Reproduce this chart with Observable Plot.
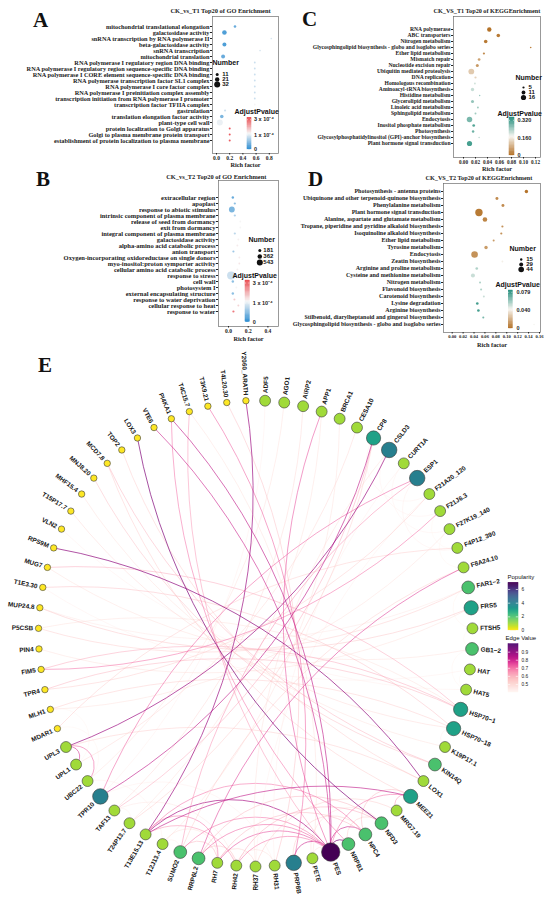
<!DOCTYPE html>
<html><head><meta charset="utf-8">
<script src="https://cdn.jsdelivr.net/npm/d3@7"></script>
<script src="https://cdn.jsdelivr.net/npm/@observablehq/plot@0.6"></script>
<style>
body{margin:0;background:#fff;}
#fig{position:relative;width:550px;height:909px;overflow:hidden;background:#fff;}
.letter{position:absolute;font-family:'Liberation Serif','Times New Roman',serif;font-weight:bold;font-size:21px;line-height:1;color:#111;}
</style></head><body><div id="fig"></div>
<script>
// ---------------- DATA ----------------
// Panel A: CK_vs_T1 GO
const goT1Terms = ["mitochondrial translational elongation","galactosidase activity","snRNA transcription by RNA polymerase II","beta-galactosidase activity","snRNA transcription","mitochondrial translation","RNA polymerase I regulatory region DNA binding","RNA polymerase I regulatory region sequence-specific DNA binding","RNA polymerase I CORE element sequence-specific DNA binding","RNA polymerase transcription factor SL1 complex","RNA polymerase I core factor complex","RNA polymerase I preinitiation complex assembly","transcription initiation from RNA polymerase I promoter","transcription factor TFIIA complex","gastrulation","translation elongation factor activity","plant-type cell wall","protein localization to Golgi apparatus","Golgi to plasma membrane protein transport","establishment of protein localization to plasma membrane"];
const goT1Rich = [0.28,0.12,0.83,0.12,0.66,0.10,0.58,0.58,0.58,0.58,0.58,0.58,0.58,0.58,0.13,0.08,0.05,0.20,0.20,0.20];
const goT1Count = [8,22,2,18,2,17,3,3,3,3,3,3,3,3,5,15,32,4,4,4];
const goT1Padj = [2e-5,1e-5,9e-5,1e-5,9e-5,2e-5,8e-5,8e-5,8e-5,8e-5,8e-5,8e-5,8e-5,1.15e-4,8e-5,3e-5,1.05e-4,3.0e-4,3.0e-4,3.0e-4];
const goT1SizeBreaks = [11,21,32];

// Panel B: CK_vs_T2 GO
const goT2Terms = ["extracellular region","apoplast","response to abiotic stimulus","intrinsic component of plasma membrane","release of seed from dormancy","exit from dormancy","integral component of plasma membrane","galactosidase activity","alpha-amino acid catabolic process","anion transport","Oxygen-incorporating oxidoreductase on single donors","myo-inositol:proton symporter activity","cellular amino acid catabolic process","response to stress","cell wall","photosystem I","external encapsulating structure","response to water deprivation","cellular response to heat","response to water"];
const goT2Rich = [0.044,0.064,0.034,0.064,0.12,0.12,0.064,0.10,0.09,0.05,0.11,0.11,0.09,0.027,0.044,0.08,0.044,0.06,0.10,0.05];
const goT2Count = [110,90,520,90,40,40,90,40,50,80,45,40,55,800,110,50,110,70,55,90];
const goT2Padj = [2e-5,4e-5,3e-5,6e-5,1.15e-4,1.15e-4,7e-5,1.2e-4,1.25e-4,5e-5,1.25e-4,1.3e-4,1.2e-4,8e-5,4e-5,1.15e-4,4e-5,1.6e-4,1.5e-4,2.6e-4];
const goT2SizeBreaks = [181,362,543];

const goPvalTicks = [0,1e-4,3e-4];
const goPvalLabels = ["0","1 x 10\u207B\u2074","3 x 10\u207B\u2074"];

// Panel C: CK_VS_T1 KEGG
const keggT1Terms = ["RNA polymerase","ABC transporters","Nitrogen metabolism","Glycosphingolipid biosynthesis - globo and isoglobo series","Ether lipid metabolism","Mismatch repair","Nucleotide excision repair","Ubiquitin mediated proteolysis","DNA replication","Homologous recombination","Aminoacyl-tRNA biosynthesis","Histidine metabolism","Glycerolipid metabolism","Linoleic acid metabolism","Sphingolipid metabolism","Endocytosis","Inositol phosphate metabolism","Photosynthesis","Glycosylphosphatidylinositol (GPI)-anchor biosynthesis","Plant hormone signal transduction"];
const keggT1Rich = [0.043,0.058,0.037,0.112,0.034,0.026,0.023,0.013,0.020,0.019,0.015,0.027,0.015,0.024,0.020,0.010,0.017,0.016,0.026,0.010];
const keggT1Count = [13,10,10,3,5,7,8,18,5,4,9,2,8,4,4,17,7,6,2,16];
const keggT1Padj = [0.01,0.02,0.02,0.03,0.04,0.07,0.06,0.12,0.13,0.20,0.21,0.25,0.25,0.24,0.24,0.27,0.30,0.28,0.22,0.31];
const keggT1SizeBreaks = [5,11,16];
const keggT1PvalTicks = [0,0.16,0.32];
const keggT1PvalLabels = ["0","0.160","0.320"];

// Panel D: CK_VS_T2 KEGG
const keggT2Terms = ["Photosynthesis - antenna proteins","Ubiquinone and other terpenoid-quinone biosynthesis","Phenylalanine metabolism","Plant hormone signal transduction","Alanine, aspartate and glutamate metabolism","Tropane, piperidine and pyridine alkaloid biosynthesis","Isoquinoline alkaloid biosynthesis","Ether lipid metabolism","Tyrosine metabolism","Endocytosis","Zeatin biosynthesis","Arginine and proline metabolism","Cysteine and methionine metabolism","Nitrogen metabolism","Flavonoid biosynthesis","Carotenoid biosynthesis","Lysine degradation","Arginine biosynthesis","Stilbenoid, diarylheptanoid and gingerol biosynthesis","Glycosphingolipid biosynthesis - globo and isoglobo series"];
const keggT2Rich = [0.136,0.082,0.093,0.049,0.060,0.092,0.090,0.076,0.062,0.041,0.092,0.045,0.038,0.051,0.053,0.058,0.046,0.048,0.057,0.150];
const keggT2Count = [24,20,20,60,35,13,13,12,24,53,10,17,30,12,12,11,17,17,12,6];
const keggT2Padj = [0.003,0.01,0.01,0.005,0.008,0.012,0.012,0.015,0.015,0.012,0.040,0.055,0.05,0.055,0.055,0.05,0.075,0.075,0.065,0.042];
const keggT2SizeBreaks = [15,29,44];
const keggT2PvalTicks = [0,0.04,0.079];
const keggT2PvalLabels = ["0","0.040","0.079"];

// Panel E: network
const nodeNames = ["ADF5","AGO1","AIRP2","APP1","BRCA1","CESA10","CP8","CSLD3","CURT1A","ESP1","F21A20_120","F21J6.3","F27K19_140","F4P12_390","F8A24.10","FAR1\u22122","FRS5","FTSH5","GB1\u22122","HAT","HAT5","HSP70\u22121","HSP70\u221218","K19P17.1","KIN14Q","LOX1","MEE21","MRG7.19","NFD3","NPC4","NRPB1","PES","PETE","PRP8B","RH31","RH37","RH42","RH7","RRP6L2","SUMO2","T12J13.4","T13E15.13","T24P13.7","TAF13","TPR10","UBC22","UPL1","UPL3","MDAR1","MLH1","TPR4","FIM5","PIN4","P5CSB","MUP24.8","T1E3.30","MUG7","RPS9M","VLN2","T15P17.7","MHF15.4","MNJ8.20","MCD7.8","TOP2","LOX3","VTE6","PI4KA1","T4C15.7","T3K9.21","T4L20.30","Y2060_ARATH"];
const nodePopularity = [1,1,1,1,1,1,3,4,1,4,1,1,1,1,1,2,3,1,2,1,1,3,3,1,2,1,3,1,2,2,2,7,1,4,1,1,1,1,2,2,1,1,1,1,4,1,1,1,0,0,0,0,0,0,0,0,0,0,0,0,0,0,0,0,0,0,0,0,0,0,0];
const edgeFrom = ["Y2060_ARATH","LOX3","VTE6","RPS9M","UPL3","UPL3","UPL3","TPR10","TPR10","T13E15.13","T13E15.13","T13E15.13","T13E15.13","T13E15.13","PES","PES","PES","PES","PES","PES","PES","PES","PES","PES","PES","PRP8B","RH31","F8A24.10","HSP70\u22121","HSP70\u221218","HSP70\u22121","HSP70\u221218","FAR1\u22122","FRS5","FRS5","KIN14Q","MEE21","MEE21","NFD3","CP8","CP8","ESP1","CSLD3","FIM5","MDAR1","MLH1","TPR4","MNJ8.20","MHF15.4","T15P17.7","VLN2","TOP2","MCD7.8","T1E3.30","MUG7","PI4KA1","T4C15.7","AGO1","AIRP2","APP1","BRCA1","CESA10","CURT1A","F21A20_120","GB1\u22122","HAT","F21J6.3","F27K19_140","CSLD3","CURT1A","RH31","RH37","SUMO2","T24P13.7","RH42","RH7","RH37","RRP6L2","PETE","PRP8B","TAF13","TPR10","UBC22","K19P17.1","GB1\u22122","FAR1\u22122","ESP1","CP8","MDAR1","MLH1","ADF5","LOX1","HSP70\u22121","F8A24.10","SUMO2","RRP6L2","PETE","T12J13.4","P5CSB","MUP24.8"];
const edgeTo = ["T13E15.13","NFD3","PES","LOX1","CSLD3","UPL1","UBC22","CP8","ESP1","PES","RH7","RH42","MEE21","NPC4","NRPB1","NPC4","RH7","RH42","RRP6L2","PRP8B","SUMO2","PI4KA1","APP1","MEE21","T4C15.7","T3K9.21","T4L20.30","RRP6L2","MUG7","T1E3.30","TPR4","MLH1","P5CSB","MUP24.8","PIN4","MCD7.8","MRG7.19","NPC4","NRPB1","T24P13.7","TAF13","SUMO2","RH37","F21J6.3","F4P12_390","F27K19_140","F21A20_120","KIN14Q","K19P17.1","HSP70\u221218","HAT5","LOX1","MEE21","HAT","GB1\u22122","NRPB1","PETE","UBC22","TAF13","T24P13.7","T12J13.4","UPL1","RH31","RH37","FTSH5","HAT5","F4P12_390","F8A24.10","F21J6.3","F27K19_140","RH42","RH7","T12J13.4","TAF13","NFD3","NPC4","MRG7.19","NFD3","NFD3","NPC4","RH42","RH31","T12J13.4","HSP70\u221218","HAT5","FTSH5","F4P12_390","F21A20_120","UBC22","UPL1","TPR10","UPL3","FIM5","SUMO2","RH7","RH42","PES","RH7","HSP70\u22121","FAR1\u22122"];
const edgeValue = [0.88,0.92,0.80,0.90,0.88,0.78,0.72,0.82,0.72,0.86,0.70,0.66,0.82,0.70,0.92,0.80,0.75,0.70,0.72,0.80,0.70,0.82,0.74,0.70,0.65,0.72,0.58,0.76,0.62,0.58,0.60,0.55,0.55,0.57,0.50,0.60,0.65,0.60,0.55,0.55,0.62,0.66,0.50,0.70,0.55,0.50,0.55,0.58,0.50,0.52,0.45,0.55,0.55,0.45,0.50,0.70,0.50,0.50,0.52,0.50,0.50,0.52,0.45,0.45,0.42,0.42,0.42,0.43,0.44,0.44,0.50,0.55,0.45,0.45,0.62,0.60,0.55,0.60,0.50,0.55,0.48,0.45,0.45,0.45,0.43,0.43,0.45,0.44,0.43,0.43,0.45,0.55,0.62,0.55,0.60,0.58,0.50,0.50,0.50,0.48];
const popTicks = [0,2,4,6];
const edgeTicks = [0.5,0.6,0.7,0.8,0.9];

// ---------------- HELPERS ----------------
const SERIF = "'Liberation Serif','Times New Roman',serif";
const SANS = "'Liberation Sans',Arial,Helvetica,sans-serif";
const fig = document.getElementById("fig");
function put(node, left, top, w, h, clip) {
  const d = document.createElement("div");
  d.style.position = "absolute"; d.style.left = left + "px"; d.style.top = top + "px";
  d.style.width = w + "px"; d.style.height = h + "px";
  d.style.overflow = clip ? "hidden" : "visible";
  d.appendChild(node); fig.appendChild(d);
}
function letter(t, left, top) {
  const d = document.createElement("div"); d.className = "letter";
  d.style.left = left + "px"; d.style.top = top + "px"; d.textContent = t; fig.appendChild(d);
}
const baseStyle = {background: "transparent", overflow: "visible", maxWidth: "none", color: "#222"};

function enrich(o) {
  const idx = d3.range(o.terms.length);
  return Plot.plot({
    width: o.w, height: o.h,
    marginLeft: o.fL, marginRight: o.w - o.fR, marginTop: o.fT, marginBottom: o.h - o.fB,
    style: {...baseStyle, fontFamily: SERIF},
    x: {domain: o.xDomain},
    y: {type: "point", domain: o.terms, range: [o.row0, o.row1]},
    r: o.r, color: o.color,
    marks: [
      Plot.frame({stroke: "#6e6e6e", strokeWidth: 0.7}),
      Plot.dot(idx, {x: i => o.rich[i], y: i => o.terms[i], r: i => o.count[i], fill: i => o.padj[i]}),
      Plot.axisY({tickSize: 2, tickPadding: 1, fontSize: o.fs, fontWeight: "bold", fontFamily: SERIF, label: null, fill: "#1a1a1a"}),
      Plot.axisX({ticks: o.xTicks, tickFormat: o.xFmt, tickSize: 1.5, tickPadding: 1, fontSize: o.tfs, fontWeight: "bold", fontFamily: SERIF, label: null, fill: "#1a1a1a"}),
      Plot.text([o.title], {text: d => d, frameAnchor: "top-left", dx: o.titleDx, dy: o.titleDy, textAnchor: "start", lineAnchor: "middle", fontSize: o.titleFs, fontWeight: "bold", fontFamily: SERIF, fill: "#1a1a1a"}),
      Plot.text(["Rich factor"], {text: d => d, frameAnchor: "bottom", dy: o.rfDy, lineAnchor: "middle", fontSize: 6.3, fontWeight: "bold", fontFamily: SERIF, fill: "#1a1a1a"})
    ]
  });
}

function sizeLegend(o) {
  return Plot.plot({
    width: o.w, height: o.h, margin: 0, style: {...baseStyle, fontFamily: SANS},
    x: {domain: [0, 1], range: [o.dotX, o.dotX + 1], axis: null},
    y: {type: "point", domain: o.values, range: [o.y0, o.y1], axis: null},
    r: o.r,
    marks: [
      Plot.text([o.title], {text: d => d, frameAnchor: "top-left", dx: o.titleX, dy: o.titleY, textAnchor: "start", lineAnchor: "middle", fontSize: 7, fontWeight: "bold", fontFamily: SANS, fill: "#111"}),
      Plot.dot(o.values, {x: 0, y: d => d, r: d => d, fill: "#111"}),
      Plot.text(o.values, {x: 0, y: d => d, dx: o.labelDx, text: d => String(d), textAnchor: "start", fontSize: 6, fontWeight: "bold", fontFamily: SANS, fill: "#111"})
    ]
  });
}

function colorLegend(o) {
  const n = 50;
  const inv = t => o.exponent ? o.vmax * Math.pow(t, 1 / o.exponent) : o.vmax * t;
  const steps = d3.range(n).map(k => ({a: inv(k / n), b: inv((k + 1) / n)}));
  const yOpts = {domain: [o.vmin || 0, o.vmax], range: [o.barBottom, o.barTop], axis: null};
  if (o.exponent) { yOpts.type = "pow"; yOpts.exponent = o.exponent; }
  if (o.vmin) { steps.forEach(s => { s.a = o.vmin + s.a / o.vmax * (o.vmax - o.vmin); s.b = o.vmin + s.b / o.vmax * (o.vmax - o.vmin); }); }
  return Plot.plot({
    width: o.w, height: o.h, margin: 0, style: {...baseStyle, fontFamily: SANS},
    x: {domain: [0, 1], range: [o.barX0, o.barX1], axis: null},
    y: yOpts, color: o.color,
    marks: [
      Plot.rect(steps, {x1: 0, x2: 1, y1: "a", y2: "b", fill: d => (d.a + d.b) / 2, stroke: d => (d.a + d.b) / 2, strokeWidth: 0.4}),
      Plot.ruleY(o.ticks, {y: d => d, x1: 0, x2: 0.22, stroke: "white", strokeWidth: 0.6}),
      Plot.ruleY(o.ticks, {y: d => d, x1: 0.78, x2: 1, stroke: "white", strokeWidth: 0.6}),
      Plot.text(o.ticks, {x: 1, y: d => d, dx: o.labelDx, text: (d, i) => o.labels[i], textAnchor: "start", lineAnchor: "middle", fontSize: o.fs || 5.5, fontWeight: o.weight || "bold", fontFamily: SANS, fill: "#222"}),
      Plot.text([o.title], {text: d => d, frameAnchor: "top-left", dx: o.titleX, dy: o.titleY, textAnchor: "start", lineAnchor: "middle", fontSize: o.titleFs || 7, fontWeight: o.weight || "bold", fontFamily: SANS, fill: "#111"})
    ]
  });
}

// ---------------- SCALES ----------------
const goColor = {type: "pow", exponent: 0.65, domain: [0, 1.14e-4, 3.3e-4], range: ["#2488cf", "#f6f6f6", "#e9474d"]};
const keggColorC = {type: "linear", domain: [0, 0.1725, 0.345], range: ["#b06a1c", "#f6f4ef", "#1b8a78"]};
const keggColorD = {type: "linear", domain: [0, 0.0415, 0.083], range: ["#b06a1c", "#f6f4ef", "#1b8a78"]};
const rA = {type: "linear", domain: [11, 32], range: [1.5, 3]};
const rB = {type: "linear", domain: [181, 543], range: [1.5, 3]};
const rC = {type: "linear", domain: [5, 16], range: [1.1, 2.6]};
const rD = {type: "linear", domain: [15, 44], range: [1.2, 2.8]};

// ---------------- PANEL A ----------------
put(enrich({w: 280, h: 172, fL: 212, fR: 278, fT: 16, fB: 153, row0: 20, row1: 146.7,
  xDomain: [-0.0606, 0.9394], xTicks: [0, 0.2, 0.4, 0.6, 0.8], xFmt: ".1f", fs: 6.3, tfs: 5.5,
  title: "CK_vs_T1 Top20 of GO Enrichment", titleDx: -42, titleDy: -6, titleFs: 6.4, rfDy: 11.3,
  terms: goT1Terms, rich: goT1Rich, count: goT1Count, padj: goT1Padj, r: rA, color: goColor}), 0, 0, 280, 172, true);
put(sizeLegend({w: 40, h: 40, title: "Number", titleX: 2, titleY: 7.3, values: goT1SizeBreaks, r: rA, dotX: 6.7, y0: 15.7, y1: 32.3, labelDx: 5}), 210, 55, 40, 40);
put(colorLegend({w: 50, h: 48, title: "AdjustPvalue", titleX: 4, titleY: 6, barX0: 17, barX1: 21, barTop: 12.3, barBottom: 44, vmax: 3.3e-4, exponent: 0.65, color: goColor, ticks: goPvalTicks, labels: goPvalLabels, labelDx: 2.5}), 230, 105, 50, 48, true);

// ---------------- PANEL B ----------------
put(enrich({w: 280, h: 180, fL: 218, fR: 278, fT: 15, fB: 161, row0: 21.7, row1: 156.7,
  xDomain: [-0.1015, 0.5076], xTicks: [0, 0.2, 0.4], xFmt: ".1f", fs: 6.5, tfs: 5.5,
  title: "CK_vs_T2 Top20 of GO Enrichment", titleDx: -52.3, titleDy: -4, titleFs: 6.4, rfDy: 12.5,
  terms: goT2Terms, rich: goT2Rich, count: goT2Count, padj: goT2Padj, r: rB, color: goColor}), 0, 165, 280, 180, true);
put(sizeLegend({w: 34, h: 40, title: "Number", titleX: 2, titleY: 7, values: goT2SizeBreaks, r: rB, dotX: 13.3, y0: 15, y1: 33.7, labelDx: 3.5}), 246, 232, 34, 40, true);
put(colorLegend({w: 52, h: 58, title: "AdjustPvalue", titleX: 4, titleY: 7.7, barX0: 17, barX1: 21.3, barTop: 12, barBottom: 53.7, vmax: 3.3e-4, exponent: 0.65, color: goColor, ticks: goPvalTicks, labels: goPvalLabels, labelDx: 3}), 228, 268, 52, 58, true);

// ---------------- PANEL C ----------------
put(enrich({w: 270, h: 175, fL: 173, fR: 260, fT: 16, fB: 157, row0: 20.3, row1: 151.7,
  xDomain: [-0.01667, 0.12833], xTicks: [0, 0.02, 0.04, 0.06, 0.08, 0.10, 0.12], xFmt: ".2f", fs: 5.6, tfs: 5.2,
  title: "CK_VS_T1 Top20 of KEGGEnrichment", titleDx: -20, titleDy: -5, titleFs: 6.2, rfDy: 11,
  terms: keggT1Terms, rich: keggT1Rich, count: keggT1Count, padj: keggT1Padj, r: rC, color: keggColorC}), 280, 0, 270, 175);
put(sizeLegend({w: 40, h: 36, title: "Number", titleX: 2, titleY: 7, values: keggT1SizeBreaks, r: rC, dotX: 10, y0: 13.7, y1: 29.7, labelDx: 5}), 513, 70, 40, 36);
put(colorLegend({w: 55, h: 56, title: "AdjustPvalue", titleX: 2, titleY: 8, barX0: 14, barX1: 19, barTop: 12, barBottom: 50, vmax: 0.345, color: keggColorC, ticks: keggT1PvalTicks, labels: keggT1PvalLabels, labelDx: 3}), 495, 105, 55, 56);

// ---------------- PANEL D ----------------
put(enrich({w: 270, h: 185, fL: 163, fR: 260, fT: 18, fB: 167, row0: 22.7, row1: 162.7,
  xDomain: [-0.01595, 0.16184], xTicks: [0, 0.02, 0.04, 0.06, 0.08, 0.10, 0.12, 0.14, 0.16], xFmt: ".2f", fs: 6.0, tfs: 4.6,
  title: "CK_VS_T2 Top20 of KEGGEnrichment", titleDx: -18, titleDy: -5.3, titleFs: 6.2, rfDy: 12,
  terms: keggT2Terms, rich: keggT2Rich, count: keggT2Count, padj: keggT2Padj, r: rD, color: keggColorD}), 280, 165, 270, 185);
put(sizeLegend({w: 43, h: 38, title: "Number", titleX: 2, titleY: 7.3, values: keggT2SizeBreaks, r: rD, dotX: 13.7, y0: 14.3, y1: 31.7, labelDx: 5}), 507, 241, 43, 38);
put(colorLegend({w: 57, h: 56, title: "AdjustPvalue", titleX: 2, titleY: 7, barX0: 15.3, barX1: 19.3, barTop: 13, barBottom: 51, vmax: 0.083, color: keggColorD, ticks: keggT2PvalTicks, labels: keggT2PvalLabels, labelDx: 3.7}), 493, 277, 57, 56);

// ---------------- PANEL E ----------------
const N = nodeNames.length;
const stepDeg = 360 / N;
const nodes = nodeNames.map((name, i) => {
  const a = (i + 0.5) * stepDeg;
  const rad = a * Math.PI / 180;
  return {name, i, a, pop: nodePopularity[i], sx: Math.sin(rad), cy: Math.cos(rad)};
});
const nodeByName = new Map(nodes.map(d => [d.name, d]));
const edges = [];
edgeFrom.forEach((f, k) => {
  let s = nodeByName.get(f), t = nodeByName.get(edgeTo[k]);
  if (!s || !t) return;
  let d = ((t.i - s.i) % N + N) % N;
  if (d > N / 2) { [s, t] = [t, s]; d = N - d; }
  edges.push({from: t, to: s, span: d, value: edgeValue[k]});
});
edges.sort((a, b) => a.value - b.value);
const groups = [
  {bend: 80, data: edges.filter(e => e.span <= 4)},
  {bend: 50, data: edges.filter(e => e.span > 4 && e.span <= 14)},
  {bend: 22, data: edges.filter(e => e.span > 14)}
];
const exX = {domain: [-1, 1], range: [38, 472], axis: null};
const exY = {domain: [-1, 1], range: [526, 60], axis: null};
const edgeColor = {scheme: "RdPu", domain: [0.4, 1.0]};
put(Plot.plot({
  width: 550, height: 569, style: baseStyle, x: exX, y: exY,
  color: edgeColor, opacity: {domain: [0.4, 1.0], range: [0.3, 0.78]},
  marks: groups.map(g => Plot.arrow(g.data, {x1: d => d.from.sx, y1: d => d.from.cy, x2: d => d.to.sx, y2: d => d.to.cy,
    bend: g.bend, headLength: 0, stroke: d => d.value, strokeOpacity: d => d.value, strokeWidth: 0.75}))
}), 0, 340, 550, 569);

const rNodeCfg = {type: "pow", exponent: 0.5, domain: [0, 7], range: [3.2, 9.2]};
const rPix = d3.scalePow().exponent(0.5).domain([0, 7]).range([3.2, 9.2]);
const lx = d => d.sx * (1 + (rPix(d.pop) + 2.2) / 217);
const ly = d => d.cy * (1 + (rPix(d.pop) + 2.2) / 233);
const labelOpts = {x: lx, y: ly, text: "name", lineAnchor: "middle", fontSize: 6.4, fontWeight: "bold", fontFamily: SANS, fill: "#151515"};
put(Plot.plot({
  width: 550, height: 569, style: baseStyle, x: exX, y: exY,
  r: rNodeCfg, color: {scheme: "viridis", reverse: true, domain: [0, 7]},
  marks: [
    Plot.dot(nodes, {x: "sx", y: "cy", r: "pop", fill: "pop", stroke: "#3a3a3a", strokeWidth: 0.6}),
    Plot.text(nodes.filter(d => d.a < 180), {...labelOpts, rotate: d => d.a - 90, textAnchor: "start"}),
    Plot.text(nodes.filter(d => d.a >= 180), {...labelOpts, rotate: d => d.a - 270, textAnchor: "end"})
  ]
}), 0, 340, 550, 569);

put(colorLegend({w: 52, h: 66, title: "Popularity", titleX: 9, titleY: 7, barX0: 10, barX1: 20, barTop: 12.2, barBottom: 60, vmax: 7,
  color: {scheme: "viridis", reverse: true, domain: [0, 7]}, ticks: popTicks, labels: popTicks.map(String), labelDx: 3, fs: 4.8, titleFs: 6, weight: "normal"}), 498, 570, 52, 66);
put(colorLegend({w: 52, h: 62, title: "Edge Value", titleX: 7, titleY: 3.5, barX0: 10, barX1: 20, barTop: 9.6, barBottom: 58, vmin: 0.4, vmax: 1.0,
  color: edgeColor, ticks: edgeTicks, labels: edgeTicks.map(d => d.toFixed(1)), labelDx: 3, fs: 4.8, titleFs: 6, weight: "normal"}), 498, 634, 52, 62);

// ---------------- LETTERS ----------------
letter("A", 33, 9.5); letter("B", 36, 168.5); letter("C", 302, 8.5); letter("D", 308, 168.5); letter("E", 38, 354.5);
</script></body></html>
